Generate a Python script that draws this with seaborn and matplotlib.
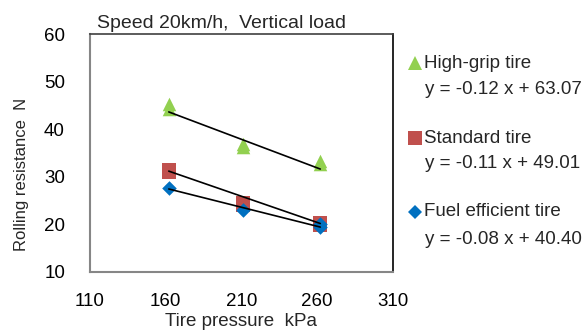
#!/usr/bin/env python3

# Rolling resistance vs tire pressure, three tire types with linear fits.
import matplotlib
matplotlib.use('Agg')
import matplotlib.pyplot as plt
import numpy as np
import pandas as pd
import seaborn as sb

# Measured points (two runs at some pressures)
HIGHGRIP_X = [162, 162, 211, 211, 262, 262]
HIGHGRIP_Y = [45.3, 44.2, 36.8, 36.2, 33.4, 32.7]
STANDARD_X = [162, 162, 211, 211, 262, 262]
STANDARD_Y = [31.4, 31.0, 24.6, 24.1, 20.2, 19.8]
FUEL_X = [162, 211, 262, 262]
FUEL_Y = [27.6, 23.0, 20.0, 19.4]

TIRES = ['High-grip tire', 'Standard tire', 'Fuel efficient tire']
SLOPES = [-0.12, -0.11, -0.08]
INTERCEPTS = [63.07, 49.01, 40.40]
COLORS = ['#92D050', '#C0504D', '#0070C0']
MARKERS = ['^', 's', 'D']

X_TICKS = [110, 160, 210, 260, 310]
Y_TICKS = [10, 20, 30, 40, 50, 60]


def main():
    frames = []
    for name, xs, ys in zip(TIRES, [HIGHGRIP_X, STANDARD_X, FUEL_X], [HIGHGRIP_Y, STANDARD_Y, FUEL_Y]):
        frames.append(pd.DataFrame({'pressure': xs, 'resistance': ys, 'tire': name}))
    data = pd.concat(frames, ignore_index=True)

    sb.set_style('white')
    plt.rcParams['font.family'] = ['Liberation Sans', 'DejaVu Sans']
    figure = plt.figure(figsize=(5.88, 3.31), dpi=100)
    axis = figure.add_axes([90 / 588, 1 - 272 / 331, 303 / 588, 238 / 331])

    # Points
    sizes = {'High-grip tire': 95, 'Standard tire': 90, 'Fuel efficient tire': 55}
    for name, color, marker in zip(TIRES, COLORS, MARKERS):
        subset = data[data['tire'] == name]
        sb.scatterplot(data=subset, x='pressure', y='resistance', color=color, marker=marker,
                       s=sizes[name], linewidth=0, ax=axis, zorder=2, legend=False)

    # Trend lines over the measured range
    for name, slope, intercept in zip(TIRES, SLOPES, INTERCEPTS):
        xs = data[data['tire'] == name]['pressure']
        x = np.array([xs.min(), xs.max()])
        axis.plot(x, slope * x + intercept, color='black', linewidth=1.2, zorder=3)

    # Axis formatting
    axis.set_xlim(110, 310)
    axis.set_ylim(10, 60)
    axis.set_xticks(X_TICKS)
    axis.set_yticks(Y_TICKS)
    axis.tick_params(axis='both', direction='in', length=5, width=1, color='#868686',
                     labelsize=13.5, colors='#000000')
    axis.tick_params(axis='x', pad=15)
    axis.tick_params(axis='y', pad=18)
    axis.tick_params(axis='both', color='#868686')
    for side in ['left', 'bottom']:
        axis.spines[side].set_color('#868686')
        axis.spines[side].set_linewidth(1.5)
    axis.spines['top'].set_color('#404040')
    axis.spines['right'].set_color('#000000')
    for side in ['top', 'right']:
        axis.spines[side].set_linewidth(1.2)
    axis.set_xlabel('')
    axis.set_ylabel('')

    figure.text(241 / 588, 1 / 331, 'Tire pressure  kPa', ha='center', va='bottom', fontsize=13.5)
    figure.text(22 / 588, 1 - 174 / 331, 'Rolling resistance  N', ha='center', va='center',
                rotation=90, fontsize=12)
    figure.text(97 / 588, 1 - 28 / 331, 'Speed 20km/h,  Vertical load', ha='left', va='baseline',
                fontsize=14)

    # Legend with the fitted equations
    rows = [63, 138, 212]
    equations = [90, 163, 240]
    for name, color, marker, row, eq, slope, intercept in zip(TIRES, COLORS, MARKERS, rows, equations, SLOPES, INTERCEPTS):
        size = 7 if marker == 'D' else 10
        figure.lines.append(matplotlib.lines.Line2D([415 / 588], [1 - row / 331], marker=marker, color=color,
                                                    markersize=size, markeredgewidth=0, linestyle='none',
                                                    transform=figure.transFigure))
        figure.text(424 / 588, 1 - row / 331, name, ha='left', va='center', fontsize=13.5)
        figure.text(425 / 588, 1 - eq / 331, 'y = {:.2f} x + {:.2f}'.format(slope, intercept),
                    ha='left', va='center', fontsize=13.5)

    plt.savefig('out.png', dpi=100)
    plt.close()


if __name__ == '__main__':
    main()
